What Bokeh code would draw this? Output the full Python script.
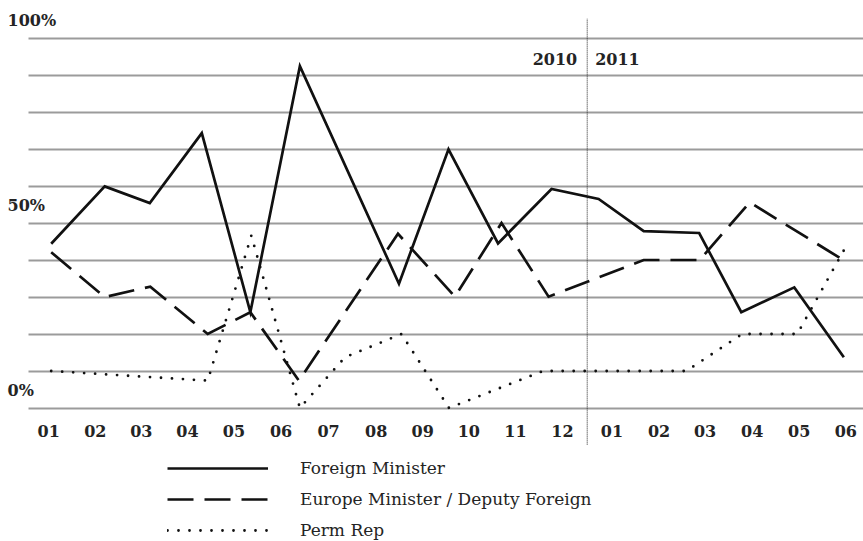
from bokeh.plotting import figure
from bokeh.models import (ColumnDataSource, Range1d, FixedTicker, LabelSet, Label,
                          Legend, LegendItem, Whisker, TeeHead)
from bokeh.core.properties import value
from bokeh.embed import file_html
from bokeh.resources import INLINE

# ---------------- data (x in month steps, y in %) ----------------
fm_x = [0, 1.08, 1.99, 3.04, 4.02, 5.02, 7.02, 8.02, 9.02, 10.10, 11.05, 11.96, 13.08, 13.93, 15.0, 16.0]
fm_y = [44.4, 59.9, 55.4, 74.3, 25.9, 92.4, 33.6, 69.9, 44.5, 59.2, 56.5, 47.8, 47.3, 25.9, 32.6, 13.7]

eu_x = [0, 1.08, 2.0, 3.16, 4.02, 5.0, 7.0, 8.15, 9.09, 10.04, 11.96, 13.09, 14.1, 16.0]
eu_y = [42.1, 30.0, 32.8, 20.0, 25.9, 7.4, 47.1, 30.1, 50.0, 30.1, 40.0, 40.0, 55.6, 39.9]

pr_x = [0, 3.16, 4.04, 5.02, 5.93, 7.07, 8.03, 9.93, 12.82, 13.95, 15.06, 16.0]
pr_y = [10.0, 7.4, 46.6, 0.0, 13.7, 20.0, 0.0, 10.0, 10.0, 20.0, 20.0, 42.6]

series_names = ["Foreign Minister", "Europe Minister / Deputy Foreign", "Perm Rep"]

x_tick_pos = [-0.05, 0.89, 1.82, 2.75, 3.69, 4.64, 5.60, 6.56, 7.50, 8.43, 9.37, 10.32,
              11.32, 12.27, 13.20, 14.15, 15.10, 16.04]
x_tick_labels = ["01", "02", "03", "04", "05", "06", "07", "08", "09", "10", "11", "12",
                 "01", "02", "03", "04", "05", "06"]
y_label_values = [0, 50, 100]
y_label_texts = ["0%", "50%", "100%"]
grid_values = [0, 10, 20, 30, 40, 50, 60, 70, 80, 90, 100]
year_labels = ["2010", "2011"]

# ---------------- figure ----------------
X0, X1 = -1.0234, 16.397      # visible x range (month steps)
Y0, Y1 = -36.08, 110.14       # visible y range (%)
GRID_X0 = -0.458              # left end of the grid lines
TICK_Y = -6.2                 # level of month labels
YEAR_Y = 94.2                 # level of the year labels

p = figure(width=863, height=541, output_backend="svg", toolbar_location=None,
           x_range=Range1d(X0, X1), y_range=Range1d(Y0, Y1),
           min_border_left=0, min_border_right=0, min_border_top=0, min_border_bottom=0)
p.outline_line_color = None
p.background_fill_color = "white"
p.border_fill_color = "white"
p.xaxis.visible = False
p.yaxis.visible = False
p.xgrid.visible = False
p.ygrid.ticker = FixedTicker(ticks=grid_values)
p.ygrid.cross_bounds = (GRID_X0, X1)
p.ygrid.grid_line_color = "#9b9b9b"
p.ygrid.grid_line_width = 2

TEXT = "#242424"
FONT = "DejaVu Serif"

# year boundary (midway between Dec 2010 and Jan 2011 labels)
year_break = (x_tick_pos[11] + x_tick_pos[12]) / 2
wsrc = ColumnDataSource(dict(base=[year_break], lower=[-9.9], upper=[105.3]))
w = Whisker(source=wsrc, base="base", lower="lower", upper="upper", dimension="height",
            line_color="#222222", line_width=1, line_dash="1 1",
            upper_head=TeeHead(size=0, line_alpha=0), lower_head=TeeHead(size=0, line_alpha=0),
            level="overlay")
p.add_layout(w)

# ---------------- series ----------------
r_fm = p.line(fm_x, fm_y, line_color="#111111", line_width=2.7, line_join="miter")
r_eu = p.line(eu_x, eu_y, line_color="#111111", line_width=2.7, line_dash="26 11", line_join="miter")
r_pr = p.line(pr_x, pr_y, line_color="#111111", line_width=2.8, line_dash="0 11", line_cap="round")

# ---------------- tick labels ----------------
xsrc = ColumnDataSource(dict(x=x_tick_pos, y=[TICK_Y] * len(x_tick_pos), text=x_tick_labels))
p.add_layout(LabelSet(x="x", y="y", text="text", source=xsrc,
                      text_align="center", text_baseline="middle", text_font=value(FONT),
                      text_font_style="bold", text_font_size=value("16px"),
                      text_color=value(TEXT)))

ysrc = ColumnDataSource(dict(x=[GRID_X0] * len(y_label_values), y=y_label_values, text=y_label_texts))
p.add_layout(LabelSet(x="x", y="y", text="text", source=ysrc, x_offset=-21, y_offset=18,
                      text_align="left", text_baseline="middle", text_font=value(FONT),
                      text_font_style="bold", text_font_size=value("16px"),
                      text_color=value(TEXT)))

p.add_layout(Label(x=year_break, y=YEAR_Y, text=year_labels[0], x_offset=-10, text_align="right",
                   text_baseline="middle", text_font=FONT, text_font_style="bold",
                   text_font_size="16px", text_color=TEXT))
p.add_layout(Label(x=year_break, y=YEAR_Y, text=year_labels[1], x_offset=8, text_align="left",
                   text_baseline="middle", text_font=FONT, text_font_style="bold",
                   text_font_size="16px", text_color=TEXT))

# ---------------- legend ----------------
legend = Legend(items=[LegendItem(label=series_names[0], renderers=[r_fm]),
                       LegendItem(label=series_names[1], renderers=[r_eu]),
                       LegendItem(label=series_names[2], renderers=[r_pr])],
                location=(167, 1.5), orientation="vertical",
                glyph_width=101, glyph_height=18, label_height=18, label_standoff=32,
                spacing=11, padding=0, margin=0, border_line_color=None,
                background_fill_alpha=0, label_text_font=FONT,
                label_text_font_size="17px", label_text_color=TEXT)
p.add_layout(legend, "center")

open("out.html", "w").write(file_html(p, INLINE))
